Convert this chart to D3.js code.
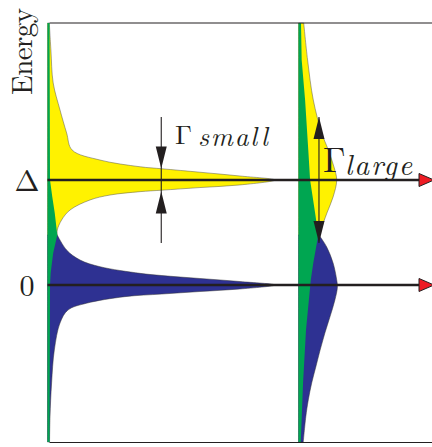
<!DOCTYPE html>
<html>
<head>
<meta charset="utf-8">
<script src="https://cdn.jsdelivr.net/npm/d3@7"></script>
<style>
  html, body { margin: 0; padding: 0; background: #fff; }
  svg { display: block; }
</style>
</head>
<body>
<script>
// energy in units of Delta, weight in % of the narrow peak height
var levels = [0, 1];
var levelLabels = ['0', 'Δ'];
var gammaSmall = 0.22, gammaLarge = 1.2;

// narrow panel (Gamma small): [energy, weight]
var smallYellow = [[2.495, 0.8], [2.238, 1.5], [1.924, 2.5], [1.667, 5.5], [1.448, 8.4], [1.286, 10.8],
  [1.19, 23.1], [1.126, 40.7], [1.107, 50.3], [1.074, 67.0], [1.038, 84.6], [1.0, 100],
  [0.953, 84.6], [0.928, 67.0], [0.903, 50.3], [0.889, 40.7], [0.857, 27.5], [0.81, 18.7],
  [0.714, 9.9], [0.619, 6.2], [0.524, 4.3], [0.476, 4.3]];
var smallBlue = [[0.476, 4.3], [0.333, 8.4], [0.238, 14.3], [0.174, 23.1], [0.111, 40.7], [0.09, 50.3],
  [0.062, 67.0], [0.033, 84.6], [0.0, 100], [-0.038, 84.6], [-0.062, 67.0], [-0.086, 50.3],
  [-0.111, 34], [-0.174, 17.1], [-0.238, 9.0], [-0.362, 5.5], [-0.619, 3.0], [-0.933, 1.8],
  [-1.257, 1.1], [-1.495, 0.9]];
var smallGreen = [[2.495, 0.9], [1.0, 1.1], [0.841, 2.1], [0.683, 3.2], [0.476, 4.3], [0.305, 2.5],
  [0.114, 1.4], [0.0, 1.1], [-1.495, 0.9]];

// wide panel (Gamma large)
var largeYellow = [[2.495, 2.3], [2.143, 4.0], [1.762, 6.5], [1.448, 10.2], [1.286, 13.1], [1.124, 15.6],
  [1.0, 16.8], [0.838, 15.2], [0.686, 12.5], [0.524, 9.8], [0.476, 9.0]];
var largeBlue = [[0.476, 9.0], [0.362, 12.4], [0.21, 15.2], [0.048, 16.8], [-0.019, 17.1], [-0.143, 16.0],
  [-0.305, 13.8], [-0.457, 11.6], [-0.619, 9.5], [-0.781, 7.6], [-0.933, 5.8], [-1.095, 4.3],
  [-1.257, 3.2], [-1.495, 2.1]];
var largeGreen = [[2.495, 1.1], [2.143, 1.4], [1.762, 2.9], [1.286, 4.3], [1.0, 5.1], [0.686, 7.3],
  [0.476, 8.7], [0.21, 6.5], [0.048, 5.4], [-0.429, 3.3], [-0.933, 2.0], [-1.495, 1.0]];

var W = 432, H = 447;
var col = { yellow: '#fff200', blue: '#2e3192', green: '#00a651', red: '#ed1c24', ink: '#231f20' };
var serif = "'Latin Modern Roman', 'Liberation Serif', serif";

var svg = d3.select('body').append('svg').attr('width', W).attr('height', H);

var y = d3.scaleLinear().domain([-1.5, 2.5]).range([442.5, 22.5]);
var xSmall = d3.scaleLinear().domain([0, 100]).range([47.5, 275]);
var xLarge = d3.scaleLinear().domain([0, 100]).range([298.5, 526]);

function drawPanel(x, yellow, blue, green) {
  var area = d3.area()
    .curve(d3.curveCatmullRom.alpha(0.5))
    .y(function(d) { return y(d[0]); })
    .x0(x(0))
    .x1(function(d) { return x(d[1]); });
  svg.append('path').datum(yellow).attr('d', area)
    .attr('fill', col.yellow).attr('stroke', '#555').attr('stroke-width', 0.5);
  svg.append('path').datum(blue).attr('d', area)
    .attr('fill', col.blue).attr('stroke', '#333').attr('stroke-width', 0.5);
  svg.append('path').datum(green).attr('d', area.curve(d3.curveLinear))
    .attr('fill', col.green);
}
drawPanel(xSmall, smallYellow, smallBlue, smallGreen);
drawPanel(xLarge, largeYellow, largeBlue, largeGreen);

// frame
svg.append('line').attr('x1', xSmall(0) + 2).attr('x2', W).attr('y1', 23).attr('y2', 23)
  .attr('stroke', col.ink).attr('stroke-width', 1.2);
svg.append('line').attr('x1', xSmall(0) + 2).attr('x2', W).attr('y1', 442.5).attr('y2', 442.5)
  .attr('stroke', col.ink).attr('stroke-width', 1.2);

// level axes with red arrow heads
levels.forEach(function(e) {
  var yy = y(e);
  svg.append('line').attr('x1', xSmall(0)).attr('x2', 422).attr('y1', yy).attr('y2', yy)
    .attr('stroke', col.ink).attr('stroke-width', 2.4);
  svg.append('path')
    .attr('d', 'M' + 419 + ',' + (yy - 6.5) + 'L' + 434 + ',' + yy + 'L' + 419 + ',' + (yy + 6.5) + 'Z')
    .attr('fill', col.red).attr('stroke', col.ink).attr('stroke-width', 1);
});

// level labels
svg.selectAll('.lvl').data(levels).enter().append('text')
  .attr('class', 'lvl')
  .attr('x', 27)
  .attr('y', function(d) { return y(d) + 10.5; })
  .attr('text-anchor', 'middle')
  .style('font-family', serif)
  .attr('fill', col.ink)
  .attr('font-size', 30)
  .text(function(d, i) { return levelLabels[i]; });

svg.append('text')
  .attr('transform', 'translate(31.5,95) rotate(-90)')
  .style('font-family', serif)
  .attr('fill', col.ink)
  .attr('font-size', 29)
  .attr('textLength', 87)
  .text('Energy');

function arrowHead(cx, tip, dir) {
  // dir = +1 points down, -1 points up
  var len = 22, half = 5.5;
  return 'M' + cx + ',' + tip + 'L' + (cx - half) + ',' + (tip - dir * len) +
    'L' + (cx + half) + ',' + (tip - dir * len) + 'Z';
}

function label(x0, base, size, txt, italic, len) {
  var t = svg.append('text').attr('x', x0).attr('y', base)
    .style('font-family', serif).attr('fill', col.ink)
    .attr('font-size', size).text(txt);
  if (italic) t.attr('font-style', 'italic');
  if (len) t.attr('textLength', len).attr('lengthAdjust', 'spacing');
  return t;
}

// Gamma small: arrows pointing inward
var gsx = xSmall(50);
svg.append('line').attr('x1', gsx).attr('x2', gsx).attr('y1', 117).attr('y2', 243)
  .attr('stroke', col.ink).attr('stroke-width', 1.1);
svg.append('path').attr('d', arrowHead(gsx, y(1 + gammaSmall / 2), 1)).attr('fill', col.ink);
svg.append('path').attr('d', arrowHead(gsx, y(1 - gammaSmall / 2), -1)).attr('fill', col.ink);
label(175, 143.5, 27, 'Γ');
label(198, 146, 27, 'small', true, 70);

// Gamma large: arrows pointing outward
var glx = xLarge(9);
svg.append('line').attr('x1', glx).attr('x2', glx).attr('y1', y(1 + gammaLarge / 2)).attr('y2', y(1 - gammaLarge / 2))
  .attr('stroke', col.ink).attr('stroke-width', 1.1);
svg.append('path').attr('d', arrowHead(glx, y(1 + gammaLarge / 2), -1)).attr('fill', col.ink);
svg.append('path').attr('d', arrowHead(glx, y(1 - gammaLarge / 2), 1)).attr('fill', col.ink);
label(323, 171.5, 36, 'Γ');
label(345, 175, 29, 'large', true, 67);
</script>
</body>
</html>
